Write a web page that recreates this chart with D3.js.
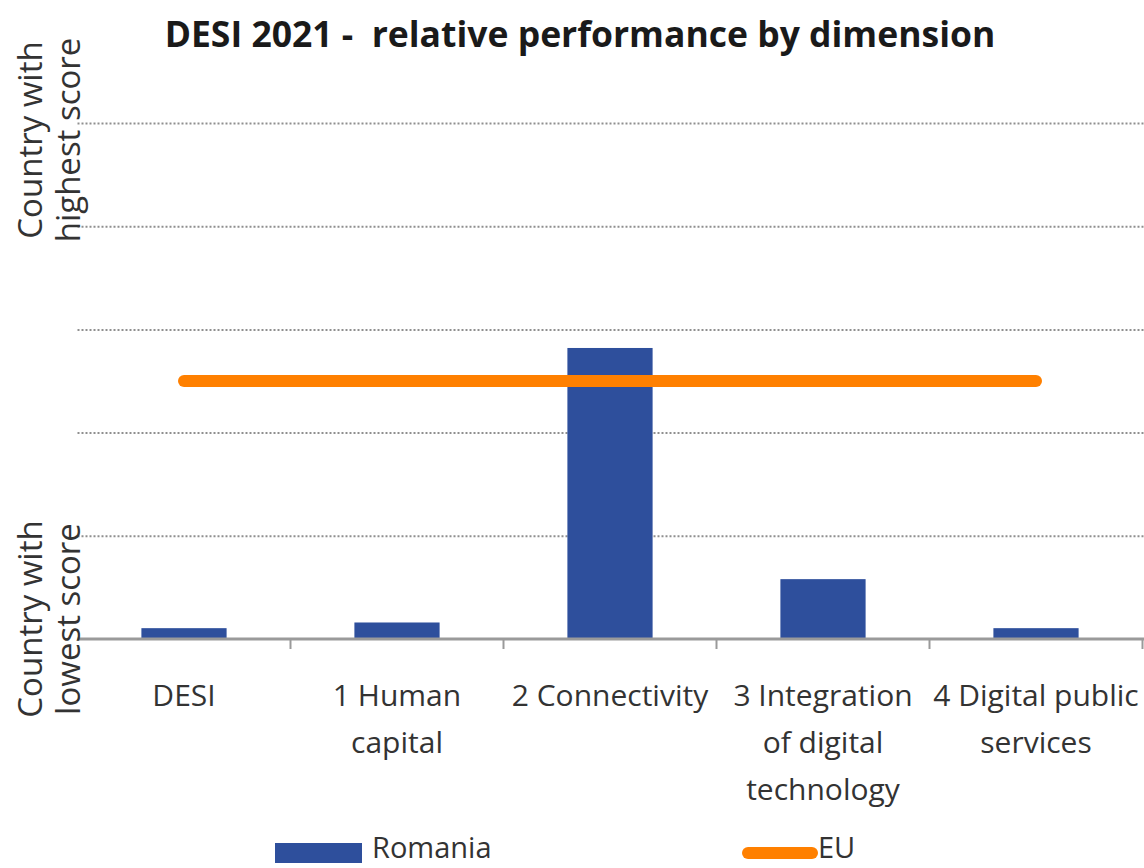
<!DOCTYPE html>
<html>
<head>
<meta charset="utf-8">
<script src="https://cdn.jsdelivr.net/npm/d3@7"></script>
<style>
  html, body { margin: 0; padding: 0; background: #fff; }
  svg { display: block; font-family: "Open Sans", sans-serif; }
</style>
</head>
<body>
<div id="chart"></div>
<script>
// data (relative scale: 0 = lowest country, 1 = highest)
const categories = ["DESI", "1 Human capital", "2 Connectivity", "3 Integration of digital technology", "4 Digital public services"];
const categoryLines = [["DESI"], ["1 Human", "capital"], ["2 Connectivity"], ["3 Integration", "of digital", "technology"], ["4 Digital public", "services"]];
const romania = [0.021, 0.032, 0.564, 0.116, 0.021];
const eu = [0.5, 0.5, 0.5, 0.5, 0.5];
const gridValues = [0, 0.2, 0.4, 0.6, 0.8, 1];

const width = 1144, height = 868;
const plotLeft = 77.5, plotRight = 1142.5, plotTop = 123, plotBottom = 639;

const svg = d3.select("#chart")
    .append("svg")
    .attr("width", width)
    .attr("height", height);

svg.append("rect").attr("width", width).attr("height", height).attr("fill", "#fff");

const x = d3.scaleBand()
    .domain(categories)
    .range([plotLeft, plotRight])
    .padding(0);

const y = d3.scaleLinear()
    .domain([0, 1])
    .range([plotBottom, plotTop]);

// dotted gridlines
const grid = svg.append("g")
    .attr("transform", `translate(${plotLeft},0)`)
    .call(d3.axisLeft(y).tickValues(gridValues.filter(v => v > 0)).tickSize(-(width - plotLeft)).tickFormat(""));
grid.select(".domain").remove();
grid.selectAll("line")
    .attr("stroke", "#8f8f8f")
    .attr("stroke-width", 2)
    .attr("stroke-dasharray", "2,2");

// bars
svg.selectAll(".bar")
    .data(romania)
    .enter()
    .append("rect")
    .attr("class", "bar")
    .attr("x", (d, i) => x(categories[i]) + x.bandwidth() * 0.3)
    .attr("y", d => y(d))
    .attr("width", x.bandwidth() * 0.4)
    .attr("height", d => y(0) - y(d))
    .attr("fill", "#2e4f9c");

// category axis
const xAxis = svg.append("g")
    .attr("transform", `translate(0,${plotBottom})`)
    .call(d3.axisBottom(x).tickSize(0).tickFormat(""));
xAxis.select(".domain")
    .attr("d", `M${plotLeft},0H${width}`)
    .attr("stroke", "#9a9a9a")
    .attr("stroke-width", 3);

svg.append("g")
    .selectAll("line")
    .data(categories)
    .enter()
    .append("line")
    .attr("x1", d => x(d) + x.bandwidth())
    .attr("x2", d => x(d) + x.bandwidth())
    .attr("y1", plotBottom)
    .attr("y2", plotBottom + 10)
    .attr("stroke", "#9a9a9a")
    .attr("stroke-width", 2);

// category labels
svg.append("g")
    .selectAll("text")
    .data(categories)
    .enter()
    .append("text")
    .attr("text-anchor", "middle")
    .attr("font-size", 30)
    .attr("fill", "#333")
    .each(function (d, i) {
        d3.select(this).selectAll("tspan")
            .data(categoryLines[i])
            .enter()
            .append("tspan")
            .attr("x", x(d) + x.bandwidth() / 2)
            .attr("y", (t, j) => 706 + j * 47)
            .text(t => t);
    });

// EU line
const line = d3.line()
    .x((d, i) => x(categories[i]) + x.bandwidth() / 2)
    .y(d => y(d));

svg.append("path")
    .datum(eu)
    .attr("d", line)
    .attr("fill", "none")
    .attr("stroke", "#ff8000")
    .attr("stroke-width", 12)
    .attr("stroke-linecap", "round");

// rotated y labels
const yLabels = [
    { v: 1, lines: ["Country with", "highest score"], shift: 17 },
    { v: 0, lines: ["Country with", "lowest score"], shift: -20 }
];
yLabels.forEach(l => {
    const t = svg.append("text")
        .attr("text-anchor", "middle")
        .attr("font-size", 33)
        .attr("fill", "#333")
        .attr("transform", `translate(42,${y(l.v) + l.shift}) rotate(-90)`);
    l.lines.forEach((s, j) => {
        t.append("tspan").attr("x", 0).attr("y", j * 38).text(s);
    });
});

// title
svg.append("text")
    .attr("x", 580)
    .attr("y", 47)
    .attr("text-anchor", "middle")
    .attr("font-size", 35.5)
    .attr("font-weight", "bold")
    .attr("fill", "#1a1a1a")
    .style("white-space", "pre")
    .text("DESI 2021 -  relative performance by dimension");

// legend
const legend = svg.append("g");
legend.append("rect")
    .attr("x", 275).attr("y", 843)
    .attr("width", 87).attr("height", 20)
    .attr("fill", "#2e4f9c");
legend.append("text")
    .attr("x", 372).attr("y", 858)
    .attr("font-size", 29).attr("fill", "#333")
    .text("Romania");
legend.append("line")
    .attr("x1", 748).attr("x2", 812)
    .attr("y1", 853).attr("y2", 853)
    .attr("stroke", "#ff8000").attr("stroke-width", 12)
    .attr("stroke-linecap", "round");
legend.append("text")
    .attr("x", 818).attr("y", 858)
    .attr("font-size", 29).attr("fill", "#333")
    .text("EU");
</script>
</body>
</html>
